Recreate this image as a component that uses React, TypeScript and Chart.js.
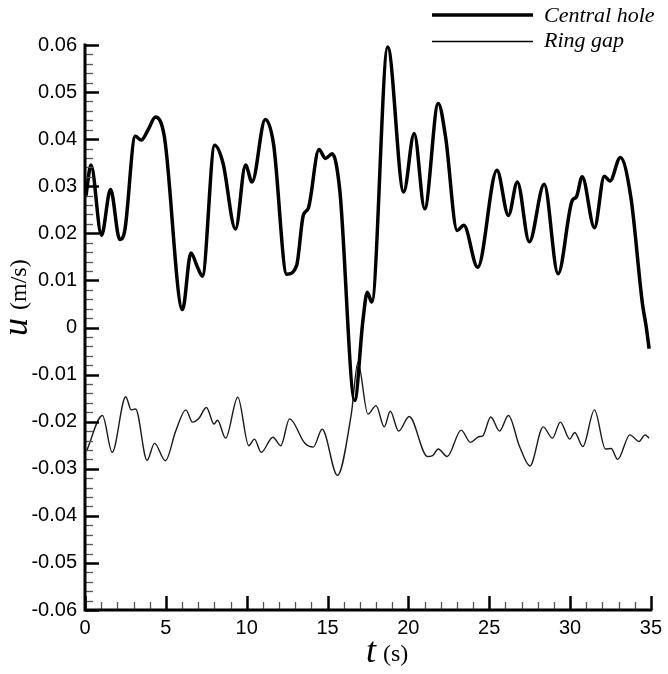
import React, { useEffect, useRef } from "react";
import { Chart, registerables } from "chart.js";

Chart.register(...registerables);

// Central hole series (t in s, u in m/s)
const centralT = [
  0.06, 0.37, 1.02, 1.58, 2.15, 2.46, 3.11, 3.48, 3.89, 4.36, 4.91, 6.03, 6.55, 6.96, 7.26,
  8.02, 8.53, 9.31, 9.93, 10.33, 11.15, 11.66, 12.48, 13.09, 13.5, 13.81, 14.47, 14.87, 15.29,
  15.76, 16.68, 17.19, 17.46, 17.74, 18.72, 19.71, 20.36, 21.01, 21.85, 22.3, 23.02, 23.43,
  24.29, 25.48, 26.19, 26.74, 27.48, 28.4, 29.26, 30.14, 30.39, 30.75, 31.51, 32.12, 32.47,
  33.11, 33.76, 34.48, 34.7, 34.89,
];
const centralU = [
  0.028, 0.0345, 0.0196, 0.0293, 0.0187, 0.0206, 0.0406, 0.0398, 0.0419, 0.0447, 0.0405, 0.0038,
  0.0158, 0.0128, 0.0109, 0.0387, 0.035, 0.0209, 0.0345, 0.0309, 0.0442, 0.039, 0.0113, 0.0132,
  0.0238, 0.0253, 0.0378, 0.0359, 0.0369, 0.0291, -0.0155, 0.0015, 0.0075, 0.0054, 0.0596,
  0.0288, 0.0412, 0.0252, 0.0476, 0.0405, 0.0206, 0.0217, 0.0128, 0.0334, 0.0238, 0.0309,
  0.0182, 0.0304, 0.0114, 0.027, 0.0277, 0.032, 0.0212, 0.0321, 0.0311, 0.0361, 0.0277, 0.005,
  0.0004, -0.0045,
];

// Ring gap series
const ringT = [
  0.1, 1.08, 1.68, 2.52, 2.86, 3.13, 3.84, 4.3, 4.97, 5.62, 6.24, 6.65, 7.02, 7.51, 7.98, 8.19,
  8.7, 9.45, 10.13, 10.48, 10.9, 11.62, 12.11, 12.65, 13.6, 14.12, 14.67, 15.61, 16.47, 16.88,
  17.5, 18.0, 18.51, 18.88, 19.4, 20.05, 21.18, 21.5, 21.85, 22.4, 23.27, 23.84, 24.35, 24.6,
  25.1, 25.64, 26.19, 26.86, 27.52, 28.34, 28.91, 29.4, 29.98, 30.29, 30.79, 31.51, 32.19,
  32.54, 32.95, 33.7, 34.27, 34.64, 34.89,
];
const ringU = [
  -0.0262, -0.0187, -0.0265, -0.0147, -0.0175, -0.0173, -0.0282, -0.0246, -0.0283, -0.0219,
  -0.0175, -0.0201, -0.0194, -0.017, -0.0205, -0.0197, -0.0235, -0.0148, -0.0251, -0.0237,
  -0.0265, -0.0233, -0.0251, -0.0194, -0.0246, -0.0254, -0.0216, -0.0314, -0.0184, -0.0074,
  -0.0184, -0.0166, -0.0211, -0.0178, -0.022, -0.0189, -0.0274, -0.0272, -0.0258, -0.0274,
  -0.0218, -0.0244, -0.0232, -0.023, -0.019, -0.022, -0.0187, -0.0251, -0.0294, -0.0211,
  -0.0235, -0.0201, -0.0237, -0.0223, -0.0253, -0.0175, -0.0258, -0.0257, -0.028, -0.0228,
  -0.0242, -0.0228, -0.0235,
];

const seriesNames = ["Central hole", "Ring gap"];
const xRange = [0, 35];
const yRange = [-0.06, 0.06];
const xMajorStep = 5;
const xMinorStep = 1;
const yMajorStep = 0.01;
const yMinorStep = 0.002;

const decorPlugin = {
  id: "decor",
  afterDatasetsDraw(chart: any) {
    const ctx = chart.ctx as CanvasRenderingContext2D;
    const { left, right, top, bottom } = chart.chartArea;
    const xs = chart.scales.x;
    const ys = chart.scales.y;
    ctx.save();

    // y minor / major ticks (inward)
    const nY = Math.round((yRange[1] - yRange[0]) / yMinorStep);
    const perY = Math.round(yMajorStep / yMinorStep);
    for (let i = 0; i <= nY; i++) {
      const v = yRange[0] + i * yMinorStep;
      const py = Math.round(ys.getPixelForValue(v)) + 0.5;
      const major = i % perY === 0;
      ctx.beginPath();
      ctx.strokeStyle = major ? "#000" : "#555";
      ctx.lineWidth = major ? 2.5 : 1.3;
      ctx.moveTo(left, py);
      ctx.lineTo(left + (major ? 14 : 8), py);
      ctx.stroke();
    }
    // x minor / major ticks (inward)
    const nX = Math.round((xRange[1] - xRange[0]) / xMinorStep);
    const perX = Math.round(xMajorStep / xMinorStep);
    for (let i = 0; i <= nX; i++) {
      const v = xRange[0] + i * xMinorStep;
      const px = Math.round(xs.getPixelForValue(v)) + 0.5;
      const major = i % perX === 0;
      ctx.beginPath();
      ctx.strokeStyle = major ? "#000" : "#555";
      ctx.lineWidth = major ? 2.5 : 1.3;
      ctx.moveTo(px, bottom);
      ctx.lineTo(px, bottom - (major ? 14 : 8));
      ctx.stroke();
    }
    // axis lines
    ctx.beginPath();
    ctx.strokeStyle = "#000";
    ctx.lineWidth = 3;
    ctx.lineCap = "square";
    ctx.moveTo(left, top);
    ctx.lineTo(left, bottom);
    ctx.lineTo(right, bottom);
    ctx.stroke();
    ctx.lineCap = "butt";

    // y axis title: u (m/s)
    ctx.fillStyle = "#000";
    ctx.save();
    ctx.translate(27, 336);
    ctx.rotate(-Math.PI / 2);
    ctx.textAlign = "left";
    ctx.textBaseline = "alphabetic";
    ctx.font = "italic 36px 'Liberation Serif'";
    ctx.fillText("u", 0, 0);
    const uw = ctx.measureText("u").width;
    ctx.font = "24px 'Liberation Serif'";
    ctx.fillText("(m/s)", uw + 8, -1);
    ctx.restore();

    // x axis title: t (s)
    ctx.textAlign = "left";
    ctx.textBaseline = "alphabetic";
    ctx.font = "italic 36px 'Liberation Serif'";
    ctx.fillText("t", 366, 662);
    const tw = ctx.measureText("t").width;
    ctx.font = "24px 'Liberation Serif'";
    ctx.fillText("(s)", 366 + tw + 7, 661);

    // legend
    const legendItems = [
      { name: seriesNames[0], y: 15, w: 3.5, ty: 21.5 },
      { name: seriesNames[1], y: 41.5, w: 1.5, ty: 47 },
    ];
    ctx.font = "italic 22px 'Liberation Serif'";
    for (const it of legendItems) {
      ctx.beginPath();
      ctx.strokeStyle = "#000";
      ctx.lineWidth = it.w;
      ctx.moveTo(432, it.y);
      ctx.lineTo(533, it.y);
      ctx.stroke();
      ctx.fillText(it.name, 544, it.ty);
    }
    ctx.restore();
  },
};

export default function App() {
  const ref = useRef<HTMLCanvasElement | null>(null);
  useEffect(() => {
    if (!ref.current) return;
    const chart = new Chart(ref.current, {
      type: "line",
      data: {
        datasets: [
          {
            label: seriesNames[0],
            data: centralT.map((t, i) => ({ x: t, y: centralU[i] })),
            borderColor: "#000",
            borderWidth: 3.5,
            pointRadius: 0,
            fill: false,
            cubicInterpolationMode: "monotone",
          },
          {
            label: seriesNames[1],
            data: ringT.map((t, i) => ({ x: t, y: ringU[i] })),
            borderColor: "#1a1a1a",
            borderWidth: 1.4,
            pointRadius: 0,
            fill: false,
            cubicInterpolationMode: "monotone",
          },
        ],
      },
      options: {
        animation: false,
        responsive: false,
        maintainAspectRatio: false,
        layout: { padding: { left: 8, right: 13, top: 45, bottom: 0 } },
        plugins: { legend: { display: false }, tooltip: { enabled: false } },
        scales: {
          x: {
            type: "linear",
            min: xRange[0],
            max: xRange[1],
            grid: { display: false, drawTicks: false },
            border: { display: false },
            afterFit: (s: any) => {
              s.height = 64;
            },
            ticks: {
              stepSize: xMajorStep,
              padding: 6,
              color: "#000",
              font: { family: "'Liberation Sans'", size: 20 },
              maxRotation: 0,
              autoSkip: false,
            },
          },
          y: {
            type: "linear",
            min: yRange[0],
            max: yRange[1],
            grid: { display: false, drawTicks: false },
            border: { display: false },
            afterFit: (s: any) => {
              s.width = 77;
            },
            ticks: {
              stepSize: yMajorStep,
              padding: 8,
              color: "#000",
              font: { family: "'Liberation Sans'", size: 20 },
              callback: (v: any) => String(Math.round(Number(v) * 100) / 100),
            },
          },
        },
      },
      plugins: [decorPlugin],
    });
    return () => chart.destroy();
  }, []);
  return (
    <div style={{ position: "absolute", left: 0, top: 0, width: 668, height: 674, background: "#fff" }}>
      <canvas ref={ref} width={668} height={674} />
    </div>
  );
}
